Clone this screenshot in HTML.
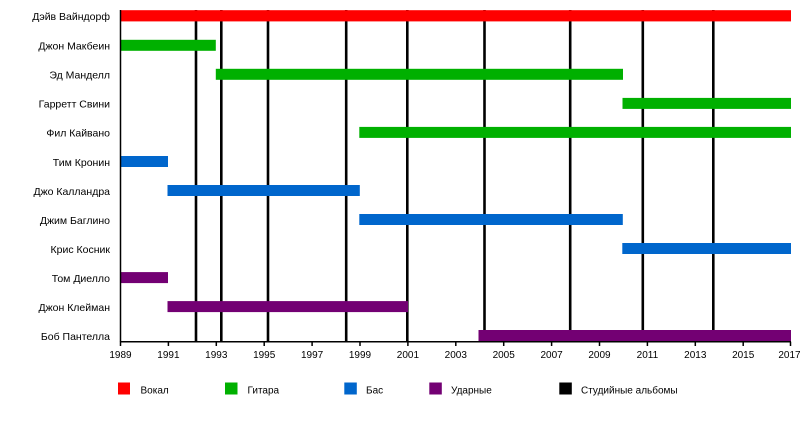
<!DOCTYPE html>
<html><head><meta charset="utf-8"><style>
html,body{margin:0;padding:0;background:#fff;}
svg{display:block;font-family:"Liberation Sans",Arial,sans-serif;}
</style></head><body>
<svg width="800" height="440" viewBox="0 0 800 440" xmlns="http://www.w3.org/2000/svg">
<rect width="800" height="440" fill="#fff"/>
<!-- album lines -->
<g stroke="#000" stroke-width="2.6">
<line x1="196" y1="10" x2="196" y2="342"/>
<line x1="221.3" y1="10" x2="221.3" y2="342"/>
<line x1="268" y1="10" x2="268" y2="342"/>
<line x1="346.2" y1="10" x2="346.2" y2="342"/>
<line x1="407.3" y1="10" x2="407.3" y2="342"/>
<line x1="484.5" y1="10" x2="484.5" y2="342"/>
<line x1="570.2" y1="10" x2="570.2" y2="342"/>
<line x1="642.8" y1="10" x2="642.8" y2="342"/>
<line x1="713.3" y1="10" x2="713.3" y2="342"/>
</g>
<!-- bars -->
<rect x="120" y="10.2" width="671" height="11.2" fill="#ff0000"/>
<rect x="120" y="39.8" width="95.8" height="11" fill="#00b000"/>
<rect x="215.8" y="68.8" width="407.2" height="11" fill="#00b000"/>
<rect x="622.5" y="97.9" width="168.5" height="11" fill="#00b000"/>
<rect x="359.3" y="126.9" width="431.7" height="11" fill="#00b000"/>
<rect x="120" y="156" width="48" height="11" fill="#0066cc"/>
<rect x="167.5" y="185" width="192.3" height="11" fill="#0066cc"/>
<rect x="359.3" y="214" width="263.5" height="11" fill="#0066cc"/>
<rect x="622.3" y="243" width="168.7" height="11" fill="#0066cc"/>
<rect x="120" y="272.1" width="48" height="11" fill="#730073"/>
<rect x="167.5" y="301.1" width="240.5" height="11" fill="#730073"/>
<rect x="478.5" y="330" width="312.5" height="11" fill="#730073"/>
<!-- axes -->
<g stroke="#000" stroke-width="1.5" fill="none">
<line x1="120.5" y1="10" x2="120.5" y2="342"/>
<line x1="120" y1="341.7" x2="791" y2="341.7"/>
<line x1="120.5" y1="341.7" x2="120.5" y2="346"/>
<line x1="168.4" y1="341.7" x2="168.4" y2="346"/>
<line x1="216.3" y1="341.7" x2="216.3" y2="346"/>
<line x1="264.2" y1="341.7" x2="264.2" y2="346"/>
<line x1="312.1" y1="341.7" x2="312.1" y2="346"/>
<line x1="360" y1="341.7" x2="360" y2="346"/>
<line x1="407.9" y1="341.7" x2="407.9" y2="346"/>
<line x1="455.8" y1="341.7" x2="455.8" y2="346"/>
<line x1="503.7" y1="341.7" x2="503.7" y2="346"/>
<line x1="551.6" y1="341.7" x2="551.6" y2="346"/>
<line x1="599.5" y1="341.7" x2="599.5" y2="346"/>
<line x1="647.4" y1="341.7" x2="647.4" y2="346"/>
<line x1="695.3" y1="341.7" x2="695.3" y2="346"/>
<line x1="743.2" y1="341.7" x2="743.2" y2="346"/>
<line x1="790.5" y1="341.7" x2="790.5" y2="346"/>
</g>
<!-- year labels -->
<g font-size="10" fill="#000" text-anchor="middle">
<text x="120.5" y="358">1989</text>
<text x="168.4" y="358">1991</text>
<text x="216.3" y="358">1993</text>
<text x="264.2" y="358">1995</text>
<text x="312.1" y="358">1997</text>
<text x="360" y="358">1999</text>
<text x="407.9" y="358">2001</text>
<text x="455.8" y="358">2003</text>
<text x="503.7" y="358">2005</text>
<text x="551.6" y="358">2007</text>
<text x="599.5" y="358">2009</text>
<text x="647.4" y="358">2011</text>
<text x="695.3" y="358">2013</text>
<text x="743.2" y="358">2015</text>
<text x="789.5" y="358">2017</text>
</g>
<!-- row labels -->
<g font-size="10.5" fill="#000" text-anchor="end">
<text x="110" y="20">Дэйв Вайндорф</text>
<text x="110" y="49.5">Джон Макбеин</text>
<text x="110" y="78.6">Эд Манделл</text>
<text x="110" y="107.6">Гарретт Свини</text>
<text x="110" y="136.7">Фил Кайвано</text>
<text x="110" y="165.8">Тим Кронин</text>
<text x="110" y="194.8">Джо Калландра</text>
<text x="110" y="223.8">Джим Баглино</text>
<text x="110" y="252.9">Крис Косник</text>
<text x="110" y="281.9">Том Диелло</text>
<text x="110" y="311">Джон Клейман</text>
<text x="110" y="340">Боб Пантелла</text>
</g>
<!-- legend -->
<rect x="118" y="382.5" width="12" height="12" fill="#ff0000"/>
<rect x="225" y="382.5" width="12.5" height="12" fill="#00b000"/>
<rect x="344.3" y="382.5" width="12.5" height="12" fill="#0066cc"/>
<rect x="429.3" y="382.5" width="12.5" height="12" fill="#730073"/>
<rect x="559.3" y="382.5" width="12.5" height="12" fill="#000"/>
<g font-size="10" fill="#000">
<text x="140.5" y="393.5">Вокал</text>
<text x="247.5" y="393.5">Гитара</text>
<text x="366" y="393.5">Бас</text>
<text x="451" y="393.5">Ударные</text>
<text x="581" y="393.5">Студийные альбомы</text>
</g>
</svg>
</body></html>
